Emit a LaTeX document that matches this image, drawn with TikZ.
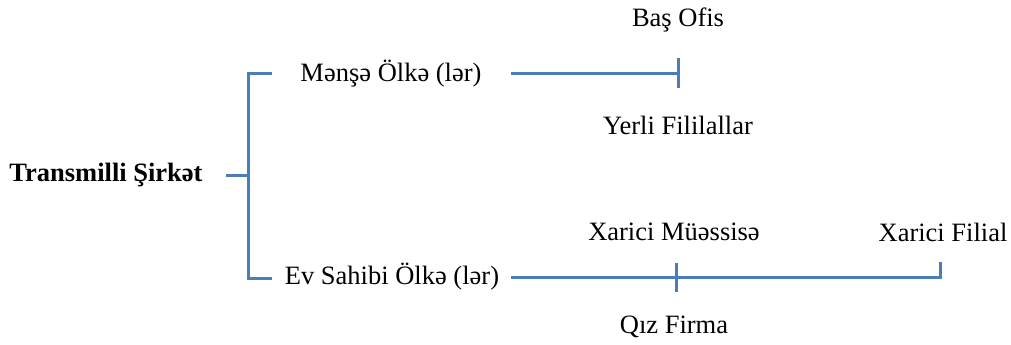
\documentclass[tikz,border=0pt]{standalone}
\usepackage{fontspec}
\setmainfont{Liberation Serif}
\definecolor{lineblue}{HTML}{4A7EBB}
\begin{document}
\begin{tikzpicture}[x=1pt,y=-1pt,
  every node/.style={inner sep=0pt, font=\fontsize{26.5}{31}\selectfont},
  ln/.style={draw=lineblue, line width=3pt}]
\useasboundingbox (0,0) rectangle (1011,345);
\node[font=\bfseries\fontsize{26.5}{31}\selectfont] (tc) at (106,175) {Transmilli Şirkət};
\node (me) at (391,74) {Mənşə Ölkə (lər)};
\node (ev) at (392,277) {Ev Sahibi Ölkə (lər)};
\node (bo) at (678,20) {Baş Ofis};
\node (yf) at (678,125) {Yerli Fililallar};
\node (xm) at (674,232) {Xarici Müəssisə};
\node (xf) at (943,232) {Xarici Filial};
\node (qf) at (674,327) {Qız Firma};
% bracket
\coordinate (s1) at (226,175);
\coordinate (s2) at (248,175);
\coordinate (bt) at (248,73);
\coordinate (btr) at (272,73);
\coordinate (bb) at (248,278);
\coordinate (bbr) at (272,278);
\draw[ln] (s1) -- (s2);
\draw[ln] (btr) -- (bt) -- (bb) -- (bbr);
% top line
\coordinate (t1) at (511,73);
\coordinate (t2) at (678,73);
\coordinate (t2a) at (678,58);
\coordinate (t2b) at (678,88);
\draw[ln] (t1) -- (t2);
\draw[ln] (t2a) -- (t2b);
% bottom line
\coordinate (u1) at (511,277);
\coordinate (u2) at (940,277);
\coordinate (u2a) at (940,262);
\coordinate (m1) at (676,263);
\coordinate (m2) at (676,292);
\draw[ln] (u1) -- (u2) -- (u2a);
\draw[ln] (m1) -- (m2);
\end{tikzpicture}
\end{document}
